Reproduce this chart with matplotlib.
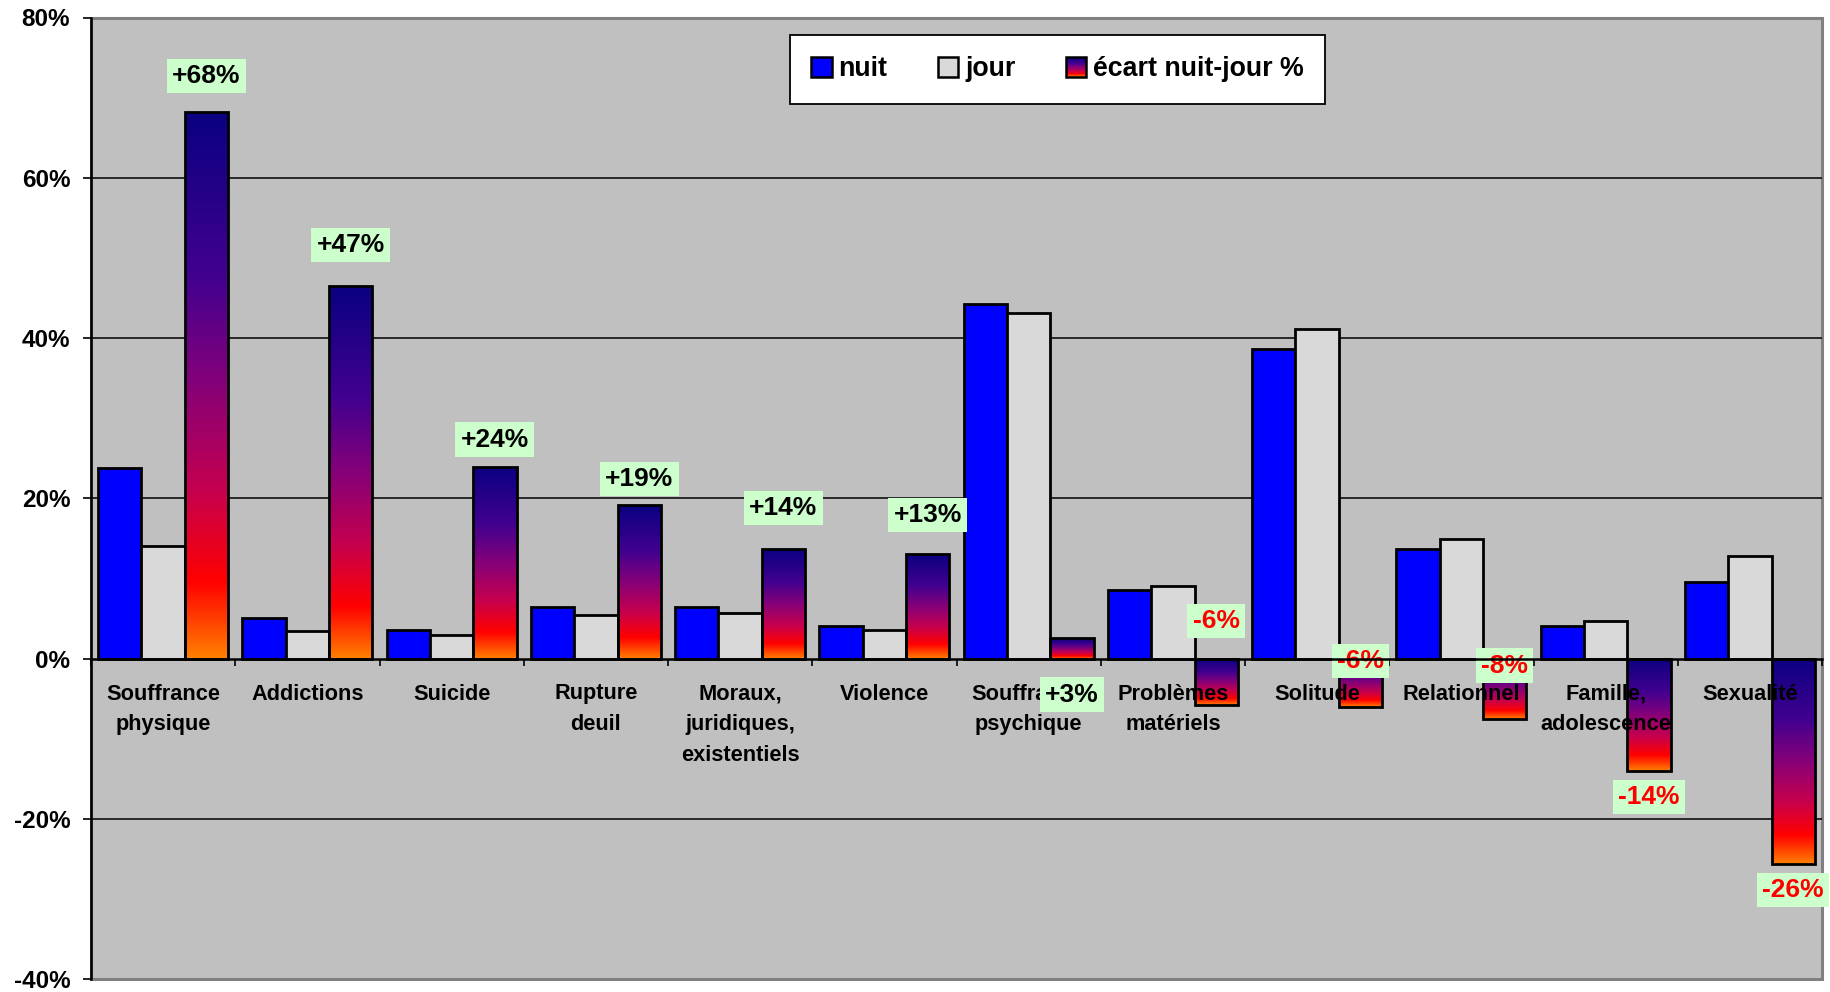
import numpy as np
import matplotlib
matplotlib.use('Agg')
import matplotlib.pyplot as plt
from matplotlib.colors import LinearSegmentedColormap
from matplotlib.patches import Rectangle
from matplotlib.legend_handler import HandlerBase

plt.rcParams['font.family'] = ['Liberation Sans', 'DejaVu Sans']

categories = ["Souffrance\nphysique", "Addictions", "Suicide", "Rupture\ndeuil",
              "Moraux,\njuridiques,\nexistentiels", "Violence", "Souffrance\npsychique",
              "Problèmes\nmatériels", "Solitude", "Relationnel", "Famille,\nadolescence",
              "Sexualité"]
nuit = [23.8, 5.0, 3.6, 6.4, 6.4, 4.1, 44.2, 8.6, 38.6, 13.7, 4.1, 9.6]
jour = [14.1, 3.4, 2.9, 5.4, 5.7, 3.6, 43.1, 9.0, 41.1, 14.9, 4.7, 12.8]
ecart = [68.2, 46.5, 23.9, 19.2, 13.7, 13.0, 2.6, -5.8, -6.0, -7.6, -14.0, -25.7]
ecart_labels = ["+68%", "+47%", "+24%", "+19%", "+14%", "+13%", "+3%",
                "-6%", "-6%", "-8%", "-14%", "-26%"]
label_y = [72.7, 51.6, 27.3, 22.4, 18.8, 17.9, -4.5, 4.7, -0.3, -0.9, -17.3, -28.9]
yticks = [-40, -20, 0, 20, 40, 60, 80]

cmap = LinearSegmentedColormap.from_list(
    "ecart", [(0.0, '#0a0080'), (0.3, '#420090'), (0.5, '#860078'),
              (0.7, '#c8004c'), (0.86, '#ff0000'), (1.0, '#ff8000')])

fig = plt.figure(figsize=(18.31, 9.92), dpi=100)
ax = fig.add_axes([91/1831, 1-979/992, (1822-91)/1831, (979-17.5)/992])
ax.set_facecolor('#c0c0c0')

x = np.arange(len(categories))
w = 0.3
for g in [-20, 20, 40, 60]:
    ax.axhline(g, color='black', lw=1.1, zorder=0.7)

ax.bar(x - w, nuit, w, color='#0000ff', edgecolor='black', lw=2, zorder=2)
ax.bar(x, jour, w, color='#d9d9d9', edgecolor='black', lw=2, zorder=2)
bars_e = ax.bar(x + w, ecart, w, facecolor='none', edgecolor='black', lw=2, zorder=2)
grad = np.linspace(0, 1, 256).reshape(-1, 1)
for b in bars_e:
    x0 = b.get_x(); x1 = x0 + b.get_width()
    y0 = b.get_y(); h = b.get_height()
    ylo, yhi = min(y0, y0 + h), max(y0, y0 + h)
    ax.imshow(grad, cmap=cmap, extent=(x0, x1, ylo, yhi), origin='upper',
              aspect='auto', zorder=1.5, interpolation='bilinear')

for i, (lab, v, ly) in enumerate(zip(ecart_labels, ecart, label_y)):
    ax.text(x[i] + w, ly, lab, ha='center', va='center', fontsize=19,
            fontweight='bold', color='black' if v >= 0 else '#ff0000', zorder=2.2,
            bbox=dict(boxstyle='square,pad=0.2', facecolor='#ccffcc', edgecolor='none'))

ax.set_xlim(-0.5, len(categories) - 0.5)
ax.set_ylim(-40, 80)

# frame
ax.add_patch(Rectangle((0, 0), 1, 1, transform=ax.transAxes, fill=False,
                       edgecolor='#808080', lw=2.2, zorder=0.6, clip_on=False))
for s in ['top', 'right']:
    ax.spines[s].set_visible(False)
ax.spines['left'].set_color('black')
ax.spines['left'].set_linewidth(1.8)
ax.spines['bottom'].set_position(('data', 0))
ax.spines['bottom'].set_linewidth(1.8)

ax.set_yticks(yticks)
ax.set_yticklabels([f"{v}%" for v in yticks], fontsize=17.5, fontweight='bold')
ax.tick_params(axis='y', direction='out', length=6, width=1.2, pad=9)

ax.set_xticks(np.arange(-0.5, len(categories), 1.0))
ax.set_xticklabels([])
ax.tick_params(axis='x', which='major', direction='out', length=5, width=1.2)
ax.set_xticks(x, minor=True)
ax.set_xticklabels(categories, minor=True, fontsize=15.7, fontweight='bold',
                   linespacing=1.62)
ax.tick_params(axis='x', which='minor', length=0, pad=18)


class GradHandler(HandlerBase):
    def create_artists(self, legend, orig_handle, xdescent, ydescent, width,
                       height, fontsize, trans):
        n = 24
        arts = []
        for k in range(n):
            arts.append(Rectangle((-xdescent, -ydescent + height * (1 - (k + 1) / n)),
                                  width, height / n, facecolor=cmap((k + 0.5) / n),
                                  edgecolor='none', transform=trans))
        arts.append(Rectangle((-xdescent, -ydescent), width, height, facecolor='none',
                              edgecolor='black', lw=1.8, transform=trans))
        return arts


h1 = Rectangle((0, 0), 1, 1, facecolor='#0000ff', edgecolor='black', lw=1.8)
h2 = Rectangle((0, 0), 1, 1, facecolor='#d9d9d9', edgecolor='black', lw=1.8)
h3 = Rectangle((0, 0), 1, 1)
leg = fig.legend([h1, h2, h3], ['nuit', 'jour', 'écart nuit-jour %'],
                 handler_map={h3: GradHandler()}, ncol=3, loc='upper left',
                 bbox_to_anchor=(790/1831, 1-35/992), frameon=True, fancybox=False,
                 prop={'weight': 'bold', 'size': 19.3}, handlelength=0.75,
                 handleheight=0.75, handletextpad=0.25, columnspacing=1.9,
                 borderpad=0.8, borderaxespad=0)
leg.get_frame().set_edgecolor('black')
leg.get_frame().set_linewidth(1.3)
leg.get_frame().set_facecolor('white')
leg.get_frame().set_alpha(1)

fig.savefig('out.png', dpi=100, facecolor='white')
